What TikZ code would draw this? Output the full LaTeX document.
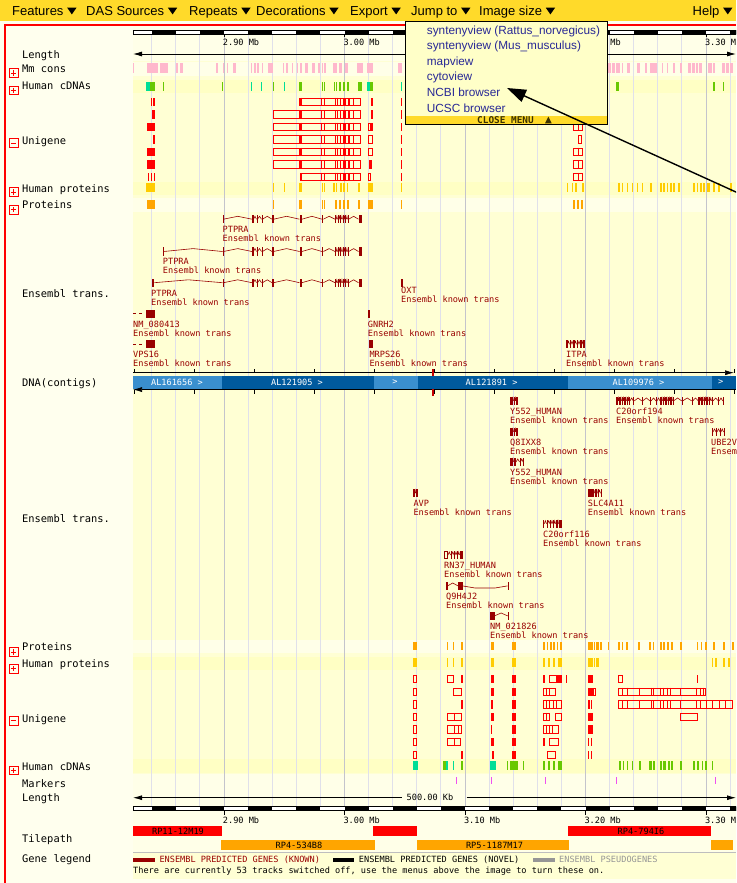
\documentclass[tikz,border=0pt]{standalone}
\usepackage{fontspec}
\setmainfont{Liberation Sans}
\newfontfamily\pix{DejaVu Sans Mono}
\usetikzlibrary{arrows.meta}
\definecolor{menubar}{RGB}{255,218,42}
\definecolor{panelbg}{RGB}{255,255,238}
\definecolor{trackbg}{RGB}{255,255,212}
\definecolor{deepband}{RGB}{255,255,196}
\definecolor{paleband}{RGB}{255,255,232}
\definecolor{gridc}{RGB}{224,224,234}
\definecolor{gridmb}{RGB}{196,196,204}
\definecolor{pinkc}{RGB}{255,184,204}
\definecolor{tealc}{RGB}{0,222,150}
\definecolor{greenc}{RGB}{104,200,0}
\definecolor{goldc}{RGB}{255,204,0}
\definecolor{orangec}{RGB}{255,165,0}
\definecolor{unired}{RGB}{255,0,0}
\definecolor{maroon}{RGB}{153,0,0}
\definecolor{navy}{RGB}{40,40,150}
\definecolor{ltblue}{RGB}{58,143,206}
\definecolor{dkblue}{RGB}{0,90,158}
\definecolor{magc}{RGB}{240,80,240}
\definecolor{ddbg}{RGB}{255,255,200}
\definecolor{closec}{RGB}{60,50,0}
\definecolor{pseudoc}{RGB}{150,150,150}
\definecolor{sepc}{RGB}{190,190,190}
\definecolor{contigred}{RGB}{200,0,0}

\newcommand\bars[4]{\foreach \xa/\xw in {#4}{\fill[#3] (\xa,#1) rectangle ++(\xw,#2);}}
\newcommand\oboxes[3]{\foreach \xa/\xw in {#3}{\draw[unired,line width=0.9pt] (\xa+0.45,#1+0.45) rectangle ++(\xw-0.9,#2-0.9);}}
\newcommand\vdivs[3]{\foreach \xa in {#3}{\draw[unired,line width=0.8pt] (\xa,#1) -- ++(0,#2);}}
\newcommand\urow[4]{\bars{#1}{8.3}{unired}{#2}\oboxes{#1}{8.3}{#3}\vdivs{#1}{8.3}{#4}}
\newcommand\gene[2]{\gdef\gPrev{-1}%
  \foreach \xa/\xw in {#2}{%
    \ifdim\gPrev pt>0pt\relax
      \draw[maroon,line width=0.6pt] (\gPrev,#1+4.2) -- ({(\gPrev+\xa)/2},#1+1.3) -- (\xa,#1+4.2);
    \fi
    \fill[maroon] (\xa,#1) rectangle ++(\xw,8.3);
    \pgfmathsetmacro\gEnd{\xa+\xw}\xdef\gPrev{\gEnd}}}
\newcommand\glabel[4]{\node[glab] (#1n) at (#2,#3+17.5) {#4};\node[glab] (#1d) at (#2,#3+26.5) {Ensembl known trans};}
\newcommand\plusbox[2]{\node[tbox] (#1) at (9,#2) {};
  \draw[red,line width=0.8pt] (#1.center) ++(-2.6,0) -- ++(5.2,0) (#1.center) ++(0,-2.6) -- ++(0,5.2);}
\newcommand\minusbox[2]{\node[tbox] (#1) at (9,#2) {};
  \draw[red,line width=0.8pt] (#1.center) ++(-2.6,0) -- ++(5.2,0);}
\newcommand\menutri[1]{\fill (#1.base east) ++(3.5,-8.3) -- ++(9.3,0) -- ++(-4.65,6.7) -- cycle;}

\begin{document}
\begin{tikzpicture}[x=1pt,y=-1pt,
  lbl/.style={anchor=base west,inner sep=0,font=\pix\fontsize{10.4}{12}\selectfont},
  glab/.style={anchor=base west,inner sep=0,font=\pix\fontsize{8.6}{10}\selectfont,text=maroon},
  small/.style={inner sep=0,font=\pix\fontsize{8.6}{10}\selectfont},
  menuitem/.style={anchor=base west,inner sep=0,font=\fontsize{13}{15}\selectfont},
  dditem/.style={anchor=base west,inner sep=0,font=\fontsize{11.8}{14}\selectfont,text=navy},
  tbox/.style={draw=red,line width=0.7pt,minimum size=8.5pt,inner sep=0,anchor=north west}]
\useasboundingbox (0,0) rectangle (736,883);
\clip (0,0) rectangle (736,883);
% backgrounds
\fill[panelbg] (0,0) rectangle (736,883);
\fill[menubar] (0,0) rectangle (736,21.5);
\fill[red] (4,24) rectangle (736,26);
\fill[red] (4,24) rectangle (6,883);
\fill[trackbg] (133,26) rectangle (736,879);
\fill[paleband] (133,26) rectangle (736,61);
\fill[paleband] (133,62) rectangle (736,75.5);
\fill[deepband] (133,79.5) rectangle (736,93);
\fill[deepband] (133,181.5) rectangle (736,194.5);
\fill[paleband] (133,198) rectangle (736,211.5);
\fill[paleband] (133,639.5) rectangle (736,653);
\fill[deepband] (133,656.5) rectangle (736,670);
\fill[deepband] (133,759) rectangle (736,772.5);
\fill[paleband] (133,774) rectangle (736,852);
% grid lines
\foreach \k in {0,...,24}{\draw[gridc,line width=0.9pt] (151.7+24.1*\k,34) -- (151.7+24.1*\k,806.5);}
\foreach \gx in {224,344.5,465,585.5,706}{\draw[gridmb,line width=0.9pt] (\gx,34) -- (\gx,806.5);}

% menu bar
\node[menuitem] (mFeat) at (12,16) {Features}; \menutri{mFeat}
\node[menuitem] (mDas) at (86,16) {DAS Sources}; \menutri{mDas}
\node[menuitem] (mRep) at (189,16) {Repeats}; \menutri{mRep}
\node[menuitem] (mDec) at (256,16) {Decorations}; \menutri{mDec}
\node[menuitem] (mExp) at (350,16) {Export}; \menutri{mExp}
\node[menuitem] (mJump) at (411,16) {Jump to}; \menutri{mJump}
\node[menuitem] (mImg) at (479,16) {Image size}; \menutri{mImg}
\node[menuitem] (mHelp) at (692.5,16) {Help}; \menutri{mHelp}

% left labels
\node[lbl] (lLen) at (22,58.1) {Length};
\node[lbl] (lMm) at (22,72.8) {Mm cons};
\node[lbl] (lHc) at (22,89.8) {Human cDNAs};
\node[lbl] (lUni) at (22,144.1) {Unigene};
\node[lbl] (lHp) at (22,192.1) {Human proteins};
\node[lbl] (lPr) at (22,208.8) {Proteins};
\node[lbl] (lEt) at (22,297.1) {Ensembl trans.};
\node[lbl] (lDna) at (22,386.1) {DNA(contigs)};
\node[lbl] (lEt2) at (22,522.8) {Ensembl trans.};
\node[lbl] (lPr2) at (22,650.5) {Proteins};
\node[lbl] (lHp2) at (22,667.8) {Human proteins};
\node[lbl] (lUni2) at (22,722.8) {Unigene};
\node[lbl] (lHc2) at (22,770.5) {Human cDNAs};
\node[lbl] (lMk) at (22,787.8) {Markers};
\node[lbl] (lLen2) at (22,801.5) {Length};
\node[lbl] (lTp) at (22,842.1) {Tilepath};
\node[lbl] (lGl) at (22,862.1) {Gene legend};
\plusbox{bMm}{68.3}
\plusbox{bHc}{85.7}
\minusbox{bUni}{138.3}
\plusbox{bHp}{187.3}
\plusbox{bPr}{205}
\plusbox{bPr2}{647.3}
\plusbox{bHp2}{664}
\minusbox{bUni2}{716}
\plusbox{bHc2}{765.7}

% top ruler
\fill[white] (133,30) rectangle (736,34);
\foreach \k in {0,2,...,24}{\fill[black] (151.7+24.1*\k,30) rectangle ++(24.1,4);}
\draw[line width=0.7pt] (133,30) rectangle (736,34);
\foreach \gx in {224,344.5,465,585.5,706}{\draw[line width=0.7pt] (\gx,34) -- ++(0,3.5);}
\node[small,anchor=base west] (r1) at (222.7,45.8) {2.90 Mb};
\node[small,anchor=base west] (r2) at (343.3,45.8) {3.00 Mb};
\node[small,anchor=base west] (r4) at (610.2,45.8) {Mb};
\node[small,anchor=base west] (r5) at (704.8,45.8) {3.30 M};
\coordinate (lenA) at (133,54);
\coordinate (lenB) at (736,54);
\draw[line width=0.8pt,{Latex[length=9pt,width=5pt]}-{Latex[length=9pt,width=5pt]}] (lenA) -- (lenB);

% Mm cons
\bars{63.5}{9.5}{pinkc}{133/1, 146.7/11.6, 160/7.7, 176/1.7, 180/2.7, 216/2.3, 222.7/1.6, 226.7/1.6, 233.3/2.4, 250.7/1.6, 254/1.6, 257.3/1.7, 261.7/1.6, 268.3/5, 282.7/1.6, 286/1.6, 291.7/1.6, 296.7/1.6, 300/1.6, 305/3.3, 311.7/3.3, 318.3/1.6, 321.7/1.6, 324/1.6, 333.3/4, 339.3/2.3, 345/3.3, 356.7/6.6, 366.7/6, 398/3.7, 608/3, 612/3, 616/4, 621.7/1.6, 626.7/3.3, 636.7/3.3, 645/1.6, 650/6.7, 661.7/1.6, 666.7/1.6, 673.3/1.6, 680/1.6, 688.3/3, 692/3, 696/2, 699/3, 708.3/3.3, 713.3/1.6, 721.7/3, 726/3, 730/3.3}
% Human cDNAs
\bars{81.5}{9}{tealc}{146/4, 251.3/1, 261.3/1, 284/1, 367/3, 400.7/1.3}
\bars{81.5}{9}{greenc}{150/5, 162.5/1.2, 222/1.3, 272.5/1.5, 299.3/2.4, 321.7/1, 324/1, 334/1, 336/1, 339.3/1.4, 343.3/2, 346.7/2, 357.7/4, 370/3, 616/3.3, 713.3/1.4, 722.7/1.3}
% Unigene (upper)
\urow{97.7}{150.7/1, 153.3/1.7, 299.3/2.4, 343/3, 347.5/2.5, 370.7/2.6, 400.7/1.6}{299.3/61.4, 572.7/10.6}{301.7,321.7,324,335,337.3,340,353.3,578}
\urow{110.2}{151.7/3.3, 299.3/2.4, 343/3, 347.5/2.5, 370.7/2.6, 400.7/1.6}{273.3/87.4, 572.7/10.6}{301.7,321.7,324,335,337.3,340,353.3,578}
\urow{122.7}{146.7/8.3, 299.3/2.4, 343/3, 347.5/2.5, 369.5/2, 400.7/1.6}{273.3/87.4, 368.3/5, 572.7/10.6}{301.7,321.7,324,335,337.3,340,353.3,578}
\urow{135.2}{152.7/2.3, 299.3/2.4, 343/3, 347.5/2.5, 400.7/1.6}{273.3/87.4, 368.3/4.7, 577.7/4}{301.7,321.7,324,335,337.3,340,353.3}
\urow{147.7}{146.7/8.3, 299.3/2.4, 343/3, 347.5/2.5, 400.7/1.6}{272.7/88, 368.3/4.7, 572.7/10.6}{301.7,321.7,324,335,337.3,340,353.3,578}
\urow{160.2}{146.7/8.3, 299.3/2.4, 343/3, 347.5/2.5, 369/3.3, 400.7/1.6}{273.3/87.4, 572.7/10.6}{301.7,321.7,324,335,337.3,340,353.3,578}
\urow{172.7}{147.5/1, 150.5/1, 153.5/1, 300/2, 343/3, 347.5/2.5, 400.7/1.6}{300/60.7, 368.3/3, 572.7/10.6}{321.7,324,335,337.3,340,353.3,578}
% Human proteins
\bars{183.3}{8.4}{goldc}{146/9, 272.7/1.3, 284/1.3, 299.3/2.4, 321.7/1, 324/1, 333.3/1.4, 336/1.4, 340/1.6, 343.3/1.7, 346.7/1.4, 358/2, 368.3/5, 400.7/1.3, 566.7/1.6, 571.7/1.6, 575/1.6, 581.7/2.3, 618.3/1.7, 621.7/1.7, 626.7/1.6, 631.7/1.6, 636.7/1.6, 641.7/1.6, 650/1.6, 660/1.6, 663.3/1.6, 666.7/1.6, 670/1.6, 673.3/1.6, 678.3/1.6, 693.3/1.6, 696.7/1.6, 700/1.6, 703.3/1.6, 706.7/1.6, 708.3/1.6, 713.3/1.6, 718.3/1.6, 730/1.6}
% Proteins
\bars{200}{9}{orangec}{146.7/8.3, 272.7/1.3, 299.3/2.4, 321.7/1, 324/1, 335/1.6, 339.3/1.4, 343.3/1.7, 346.7/2.6, 358.3/1.7, 368.3/5, 400.7/1.3, 572.7/2.3, 577.3/2, 581/2.3}

% Ensembl trans (upper)
\gene{215}{222.5/1, 252/1.5, 256.5/1, 261.5/1, 272/1.6, 299.5/2.4, 322/1.4, 335/1.2, 337.5/1.2, 340/1.4, 342.5/1.4, 345/1.4, 347.5/1.2, 358.5/3}
\glabel{ptA}{222.5}{215}{PTPRA}
\gene{247.3}{162.7/1, 222.5/1, 252/1.5, 256.5/1, 261.5/1, 272/1.6, 299.5/2.4, 322/1.4, 335/1.2, 337.5/1.2, 340/1.4, 342.5/1.4, 345/1.4, 347.5/1.2, 358.5/3}
\glabel{ptB}{162.7}{247.3}{PTPRA}
\gene{278.5}{151.5/2.8, 222.5/1, 252/1.5, 256.5/1, 261.5/1, 272/1.6, 299.5/2.4, 322/1.4, 335/1.2, 337.5/1.2, 340/1.4, 342.5/1.4, 345/1.4, 347.5/1.2, 358.5/3}
\glabel{ptC}{151}{278.5}{PTPRA}
\gene{278.5}{401/1.5}
\glabel{oxt}{401}{275.5}{OXT}
\gene{309.5}{146/9}
\draw[maroon,line width=0.8pt] (133,313.7) -- (136,313.7) (139,313.7) -- (142,313.7);
\glabel{nm8}{133}{309.5}{NM\_080413}
\gene{309.5}{367.7/2.3}
\glabel{gn}{367.7}{309.5}{GNRH2}
\gene{340}{146/9}
\draw[maroon,line width=0.8pt] (133,344.2) -- (136,344.2) (139,344.2) -- (142,344.2);
\glabel{vps}{133}{340}{VPS16}
\gene{340}{369.3/3.4}
\glabel{mrp}{369.3}{340}{MRPS26}
\gene{340}{566/1.5, 569.5/1.5, 573/1.5, 576.5/1.5, 580/1.5, 583/1.5}
\glabel{itpa}{566}{340}{ITPA}

% DNA contigs
\fill[ltblue] (133,376) rectangle (221.5,388.5);
\fill[dkblue] (221.5,376) rectangle (373.5,388.5);
\fill[ltblue] (373.5,376) rectangle (417.5,388.5);
\fill[dkblue] (417.5,376) rectangle (568,388.5);
\fill[ltblue] (568,376) rectangle (711.5,388.5);
\fill[dkblue] (711.5,376) rectangle (736,388.5);
\coordinate (ctA) at (133,372.7);
\coordinate (ctB) at (734,372.7);
\coordinate (cbA) at (133,389.6);
\coordinate (cbB) at (736,389.6);
\draw[line width=0.7pt,-{Latex[length=9pt,width=5pt]}] (ctA) -- (ctB);
\draw[line width=0.7pt,{Latex[length=9pt,width=5pt]}-] (cbA) -- (cbB);
\foreach \k in {0,...,10}{\draw[line width=0.7pt] (134.5+60*\k,369.3) -- ++(0,3.4); \draw[line width=0.7pt] (134.5+60*\k,389.6) -- ++(0,4);}
\fill[contigred] (432,369) rectangle (433.6,376);
\fill[contigred] (432,388.5) rectangle (433.6,396);
\node[small,text=white] (c1) at (177,382.3) {AL161656 >};
\node[small,text=white] (c2) at (297,382.3) {AL121905 >};
\node[small,text=white] (c3) at (395,382.3) {>};
\node[small,text=white] (c4) at (491.6,382.3) {AL121891 >};
\node[small,text=white] (c5) at (638.5,382.3) {AL109976 >};
\node[small,text=white] (c6) at (720.6,382.3) {>};

% Ensembl trans (lower)
\gene{396.7}{510/2.5, 513.5/1.5, 516/2.3}
\glabel{y5a}{510}{396.7}{Y552\_HUMAN}
\gene{396.7}{616/2, 619/1.5, 621.5/1.5, 624/1.5, 626.5/1.5, 629/1, 633.3/1, 641.7/1, 650/1, 656/1, 660/1.5, 662.5/1.5, 665/1.5, 667.5/1.5, 670/1.5, 672.5/1, 681.7/1, 691.7/1, 698.3/1.5, 701/1.5, 703.5/1.5, 706/1.5, 708.5/1.5, 711.5/1.5, 718.3/1, 722.7/1}
\glabel{c194}{616}{396.7}{C20orf194}
\gene{427.7}{510/2.5, 513.5/1.5, 516/2.3}
\glabel{q8}{510}{427.7}{Q8IXX8}
\gene{427.7}{711.5/1.5, 716/1, 720/1, 723.5/1}
\node[glab] (uben) at (711,445.2) {UBE2V};
\node[glab] (ubed) at (711,454.2) {Ensem};
\gene{457.7}{510/2.5, 513.5/2.5, 519.5/1, 523/1.3}
\glabel{y5b}{510}{457.7}{Y552\_HUMAN}
\gene{489}{413.3/2, 416.3/2}
\glabel{avp}{413.3}{489}{AVP}
\gene{489}{587.7/3, 591/3, 594.5/2, 597.5/1, 600.5/1.2}
\glabel{slc}{587.7}{489}{SLC4A11}
\gene{519.5}{543/1.3, 546.5/1, 550/1, 553/1, 555.5/2, 558.5/3}
\glabel{c116}{543}{519.5}{C20orf116}
\gene{550.7}{444/4, 450.5/1, 454/1, 457/1, 459.5/3.8}
\fill[trackbg] (445,551.7) rectangle (447,558);
\glabel{rn37}{444}{550.7}{RN37\_HUMAN}
\gene{581.7}{446/1.5, 458/1.5, 460/2.5}
\draw[maroon,line width=0.6pt] (462.5,585.9) -- (475,588) -- (495,588) -- (507.5,585.9);
\fill[maroon] (507.5,581.7) rectangle ++(1,8.3);
\glabel{q9h}{446}{581.7}{Q9H4J2}
\gene{611.7}{490/4.5, 507.7/1}
\glabel{nm21}{490}{611.7}{NM\_021826}

% Proteins (lower)
\bars{641.7}{8.5}{orangec}{413.3/4, 446.7/1.6, 452.7/1.3, 461/2.3, 491/3.3, 512.3/3.7, 543.3/1.7, 546.7/1.7, 550/1.7, 553.3/1.6, 556.7/1.6, 560/1.7, 588.3/5, 593.5/1.5, 595.5/3, 600/1.7, 607.7/1.6, 618.3/1.7, 621.7/1.7, 626/2.3, 638.3/1.7, 649.3/1.4, 652.7/1.6, 660/1.7, 663.3/1.7, 667/2.3, 671/1.7, 680/1.7, 696.7/1.6, 700.7/1.7, 705/1.7, 713.3/1.7, 723.3/1.7, 731.7/2.3}
% Human proteins (lower)
\bars{658.3}{8.7}{goldc}{413.3/4, 446.7/1.6, 452.7/1.3, 461/2.3, 491/3.3, 512.3/3.7, 543.3/1.7, 548.3/1.7, 553.3/1.7, 558.3/3.3, 588.3/5, 593.5/1.5, 595.5/3, 711.7/1.6, 715/1.7, 723.3/1.7, 728.3/1.7}
% Unigene (lower)
\urow{675}{461/1.7, 491/3.3, 512.3/3.7, 543.3/1.7, 556.8/3, 560/2, 566/1.3, 587.7/5, 696.7/1}{413.3/4, 446.7/7.3, 549.3/7.5, 618.3/4.4}{-20}
\urow{687.6}{491/3.3, 512.3/3.7, 587.7/6}{413.3/4, 453.3/9, 543.3/12.7, 587.7/8.3, 618.3/87.7}{546.5,549.5,622.5,627,639.3,651,653.3,660,663.5,667,670,680,696.3,700,703}
\urow{700.2}{461/1.7, 491/2, 512.3/3.7, 587.7/2, 590.7/1.5}{413.3/4, 543.3/18.4, 618.3/115}{546.5,549.5,553,556.5,622.5,627,639.3,651,653.3,660,663.5,667,670,680,696.3,700,706,712.5,719,725}
\urow{712.8}{491/3.3, 512.3/3.7, 587.7/5}{413.3/4, 446.7/15.6, 543.3/6.7, 555/6.7, 680/17.7}{454,546}
\urow{725.4}{491/1, 512.3/3.7, 587.7/5}{413.3/4, 446.7/15.6, 543.3/16}{454,458,546,549,552}
\urow{738}{491/3.3, 512.3/3.7, 543.3/2, 587.7/1.3, 590.5/1.3}{413.3/4, 446.7/14.6, 549.3/10}{454}
\urow{750.6}{461/1.7, 492/2.3, 512.3/3.7, 587.7/1.3, 590.5/1.3}{413.3/4, 546.7/9}{-20}
% Human cDNAs (lower)
\bars{760.7}{9.3}{tealc}{413.3/5, 446/2.3, 452.7/1.3, 490/6}
\bars{760.7}{9.3}{greenc}{443.3/3, 461/2.3, 506.7/1.6, 510/8.3, 522.7/1.3, 543.3/1.7, 548.3/1.7, 553.3/1.7, 558.3/3.3, 619.3/1.3, 622.7/1.3, 626.7/1.6, 631.7/1.3, 639.3/1.4, 649.3/2.4, 653.3/1.7, 660/1.7, 663.3/2.7, 667.7/2.3, 671/2.3, 680/1.7, 693.3/1.7, 696.7/2.6, 701.7/1.6, 705/2.3, 711.7/1.6}
% Markers
\bars{777}{7}{magc}{456/1.3, 491/1.3, 545/1.3, 615.7/1.3, 715/1.3}

% bottom length + ruler
\node[small] (len500) at (430,797.7) {500.00 Kb};
\coordinate (blA) at (133,797.7);
\coordinate (blB) at (736,797.7);
\draw[line width=0.8pt,{Latex[length=9pt,width=5pt]}-] (blA) -- (len500.west -| 401.7,797.7);
\draw[line width=0.8pt,-{Latex[length=9pt,width=5pt]}] (len500.east -| 466.7,797.7) -- (blB);
\fill[white] (133,806.5) rectangle (736,810.5);
\foreach \k in {0,2,...,24}{\fill[black] (151.7+24.1*\k,806.5) rectangle ++(24.1,4);}
\draw[line width=0.7pt] (133,806.5) rectangle (736,810.5);
\foreach \gx in {224,344.5,465,585.5,706}{\draw[line width=0.7pt] (\gx,810.5) -- ++(0,4);}
\node[small,anchor=base west] (b1) at (222.7,823.1) {2.90 Mb};
\node[small,anchor=base west] (b2) at (343.3,823.1) {3.00 Mb};
\node[small,anchor=base west] (b3) at (463.8,823.1) {3.10 Mb};
\node[small,anchor=base west] (b4) at (584.3,823.1) {3.20 Mb};
\node[small,anchor=base west] (b5) at (704.8,823.1) {3.30 M};

% tilepath
\fill[unired] (133,826) rectangle (221.7,836);
\fill[unired] (373.3,826) rectangle (417.3,836);
\fill[unired] (567.7,826) rectangle (711,836);
\fill[orangec] (221,840) rectangle (375,850);
\fill[orangec] (416.7,840) rectangle (569,850);
\fill[orangec] (711,840) rectangle (733.3,850);
\node[small] (t1) at (178,831) {RP11-12M19};
\node[small] (t2) at (299,845) {RP4-534B8};
\node[small] (t3) at (494.5,845) {RP5-1187M17};
\node[small] (t4) at (641,831) {RP4-794I6};
\draw[sepc,line width=0.8pt] (133,852) -- (736,852);

% legend
\fill[maroon] (133.3,857.7) rectangle (155,861.5);
\node[small,anchor=base west,text=maroon] (g1) at (159.3,862.5) {ENSEMBL PREDICTED GENES (KNOWN)};
\fill[black] (332.7,857.7) rectangle (354.3,861.5);
\node[small,anchor=base west] (g2) at (358.7,862.5) {ENSEMBL PREDICTED GENES (NOVEL)};
\fill[pseudoc] (533.3,857.7) rectangle (555,861.5);
\node[small,anchor=base west,text=pseudoc] (g3) at (559,862.5) {ENSEMBL PSEUDOGENES};
\node[small,anchor=base west] (g4) at (133,873.2) {There are currently 53 tracks switched off, use the menus above the image to turn these on.};

% dropdown menu
\fill[ddbg] (405.5,21) rectangle (607,124.5);
\fill[menubar] (406,115.5) rectangle (606.6,124.1);
\draw[line width=0.8pt] (405.5,21) rectangle (607,124.5);
\node[dditem] (d1) at (426.7,34.3) {syntenyview (Rattus\_norvegicus)};
\node[dditem] (d2) at (426.7,49.8) {syntenyview (Mus\_musculus)};
\node[dditem] (d3) at (426.7,65.3) {mapview};
\node[dditem] (d4) at (426.7,80.8) {cytoview};
\node[dditem] (d5) at (426.7,96.5) {NCBI browser};
\node[dditem] (d6) at (426.7,112) {UCSC browser};
\node[anchor=west,inner sep=0,font=\pix\bfseries\fontsize{9.4}{10}\selectfont,text=closec] (dclose) at (477,120) {CLOSE MENU};
\fill[closec] (545,123.3) -- (551.7,123.3) -- (548.35,116.7) -- cycle;

% pointer arrow
\coordinate (arrTail) at (748,197.5);
\coordinate (arrTip) at (507,88);
\draw[line width=1.4pt,-{Triangle[length=19pt,width=13pt]}] (arrTail) -- (arrTip);
\end{tikzpicture}
\end{document}
